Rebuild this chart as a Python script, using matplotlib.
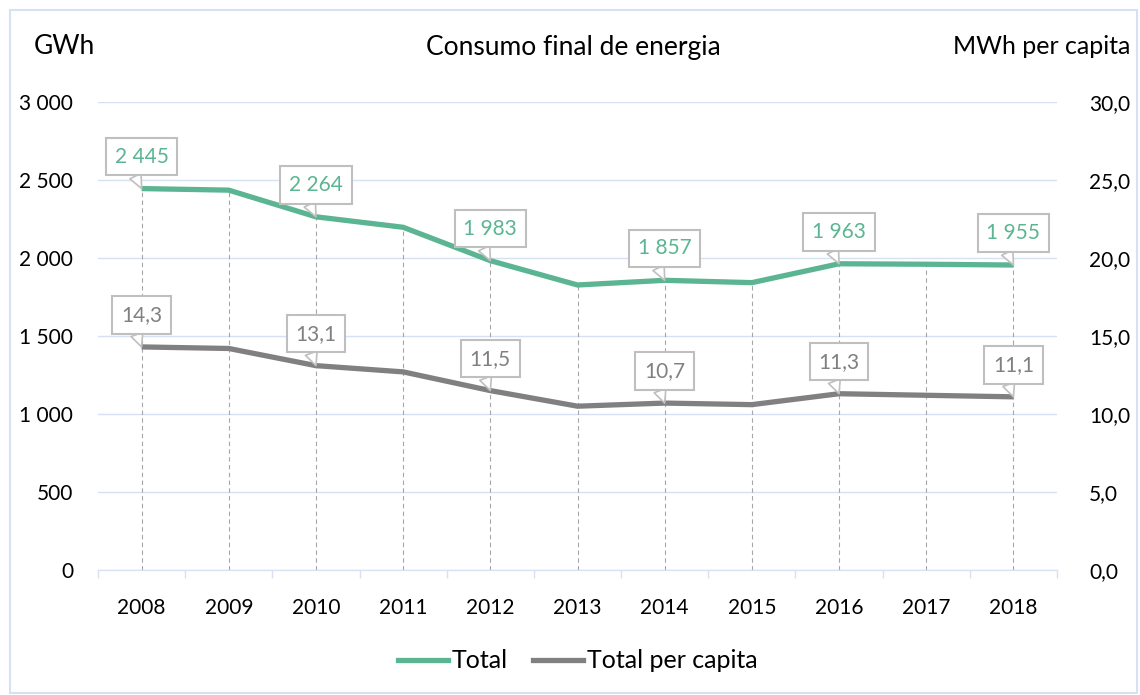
import matplotlib
matplotlib.use("Agg")
import matplotlib.pyplot as plt
from matplotlib.patches import Rectangle
from matplotlib.lines import Line2D
from matplotlib.ticker import FuncFormatter

plt.rcParams['font.family'] = ['Lato', 'DejaVu Sans']

# dados
anos = ['2008', '2009', '2010', '2011', '2012', '2013', '2014', '2015', '2016', '2017', '2018']
total = [2445, 2435, 2264, 2197, 1983, 1827, 1857, 1842, 1963, 1960, 1955]
per_capita = [14.3, 14.2, 13.1, 12.7, 11.5, 10.5, 10.7, 10.6, 11.3, 11.2, 11.1]
rotulos_idx = [0, 2, 4, 6, 8, 10]

verde = '#5BB593'
cinza = '#808080'
azul_claro = '#D6E2F3'

fig = plt.figure(figsize=(11.4, 6.95), dpi=100)
ax = fig.add_axes([98 / 1140, 125 / 695, (1057 - 98) / 1140, 468 / 695])
ax2 = ax.twinx()

x = list(range(len(anos)))

# linhas verticais tracejadas
ax.vlines(x, 0, total, colors='#A6A6A6', linestyles=(0, (4, 3)), linewidth=0.8, zorder=1)

ax.plot(x, total, color=verde, lw=3.8, solid_capstyle='butt', zorder=3)
ax2.plot(x, per_capita, color=cinza, lw=3.8, solid_capstyle='butt', zorder=3)

ax.set_xlim(-0.5, len(anos) - 0.5)
ax.set_ylim(0, 3000)
ax2.set_ylim(0, 30)
ax.set_yticks(range(0, 3001, 500))
ax2.set_yticks(range(0, 31, 5))
ax.yaxis.set_major_formatter(FuncFormatter(lambda v, p: f"{int(v):,}".replace(',', ' ')))
ax2.yaxis.set_major_formatter(FuncFormatter(lambda v, p: f"{v:.1f}".replace('.', ',')))
ax.grid(axis='y', color=azul_claro, lw=1)
ax.set_axisbelow(True)

ax.set_xticks(x)
ax.set_xticklabels(anos)
ax.set_xticks([i - 0.5 for i in range(len(anos) + 1)], minor=True)
ax.tick_params(axis='x', which='major', length=0, pad=20, labelsize=15)
ax.tick_params(axis='x', which='minor', length=6, color=azul_claro, width=1)
ax.tick_params(axis='y', length=0, pad=18, labelsize=15)
ax2.tick_params(axis='y', length=0, pad=23, labelsize=15)

for a in (ax, ax2):
    for s in ('top', 'left', 'right'):
        a.spines[s].set_visible(False)
    a.spines['bottom'].set_color(azul_claro)

# rótulos tipo callout
def callout(axis, xi, yi, txt, cor):
    axis.annotate(txt, xy=(xi, yi), xytext=(0, 32), textcoords='offset pixels',
                  ha='center', va='center', fontsize=15, color=cor, zorder=5,
                  bbox=dict(boxstyle='square,pad=0.42', fc='white', ec='#BFBFBF', lw=1.5),
                  arrowprops=dict(arrowstyle='wedge,tail_width=0.6,shrink_factor=0.5',
                                  fc='white', ec='#BFBFBF', lw=1.2, relpos=(0.3, 0.0),
                                  shrinkA=0, shrinkB=0))

for i in rotulos_idx:
    callout(ax, x[i], total[i], f"{total[i]:,}".replace(',', ' '), verde)
    callout(ax2, x[i], per_capita[i], f"{per_capita[i]:.1f}".replace('.', ','), cinza)

fig.text(64 / 1140, 1 - 47 / 695, 'GWh', ha='center', va='center', fontsize=19)
fig.text(573 / 1140, 1 - 47 / 695, 'Consumo final de energia', ha='center', va='center', fontsize=19)
fig.text(1130 / 1140, 1 - 47 / 695, 'MWh per capita', ha='right', va='center', fontsize=18)

handles = [Line2D([], [], color=verde, lw=3.8), Line2D([], [], color=cinza, lw=3.8)]
fig.legend(handles, ['Total', 'Total per capita'], loc='center', bbox_to_anchor=(578 / 1140, 1 - 661 / 695),
           ncol=2, frameon=False, fontsize=18, handlelength=2.0, handletextpad=0.15, columnspacing=1.0)

fig.patches.append(Rectangle((10 / 1140, 2 / 695), 1127 / 1140, 683 / 695, transform=fig.transFigure,
                             fill=False, ec=azul_claro, lw=1.5))

fig.savefig('out.png', dpi=100)
